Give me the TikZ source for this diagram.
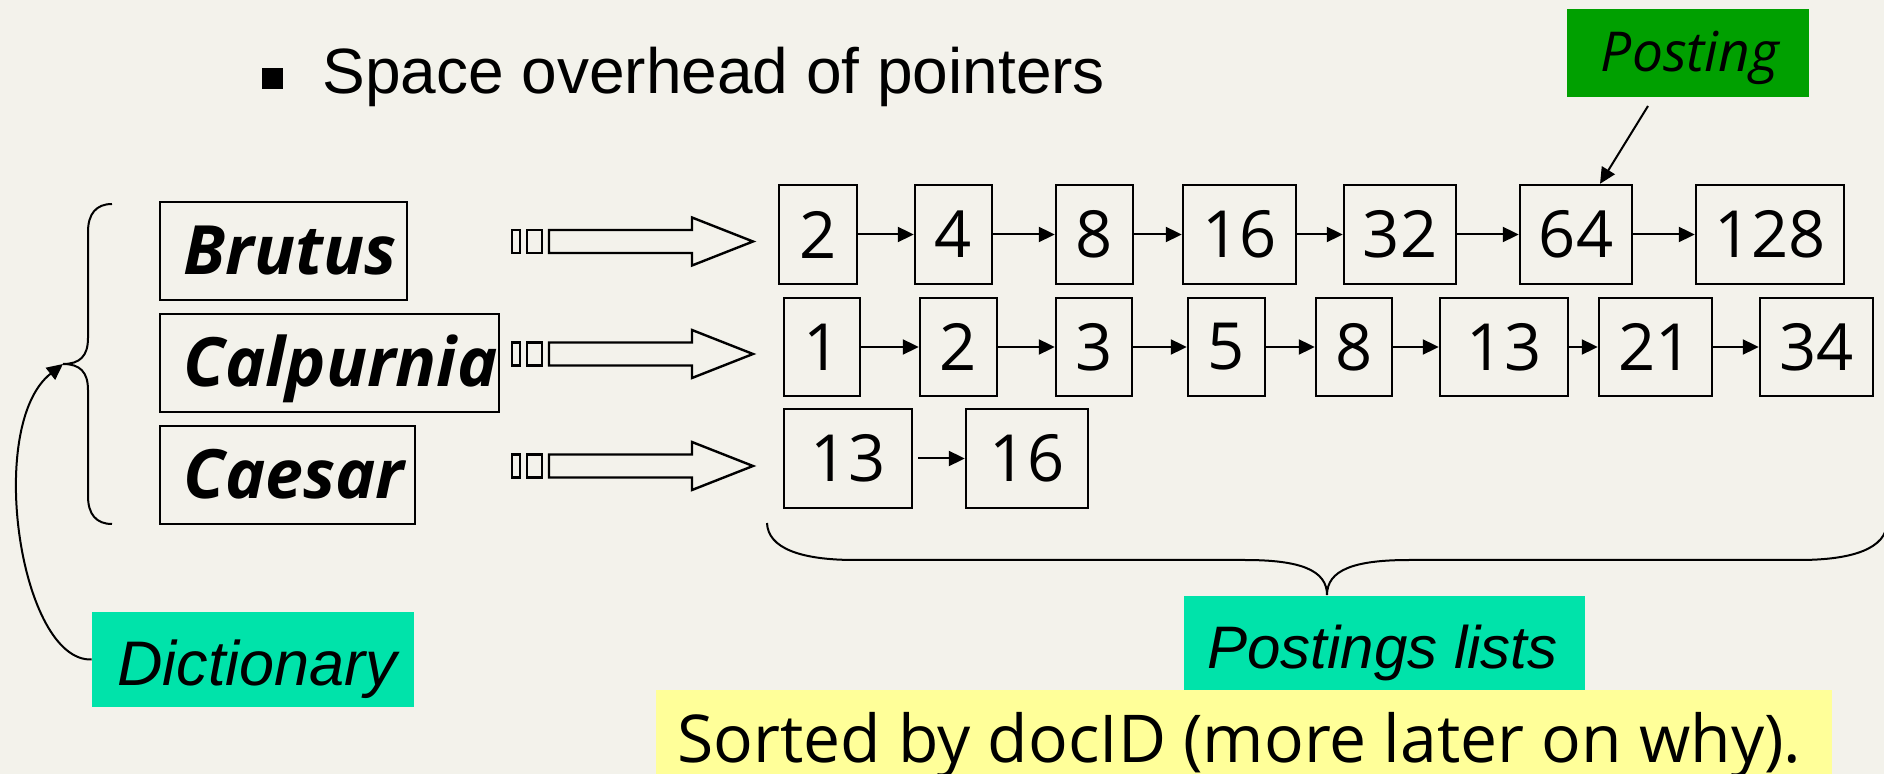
\documentclass[tikz,border=0pt]{standalone}
\usepackage{fontspec}
\setmainfont{Open Sans}
\newfontfamily\arialfont{Liberation Sans}
\usetikzlibrary{arrows.meta,fit,calc}
\definecolor{paper}{RGB}{243,242,235}
\definecolor{tealbox}{RGB}{0,227,170}
\definecolor{greenbox}{RGB}{0,160,0}
\definecolor{notebox}{RGB}{255,255,153}

% one posting: name, corners (x1,y1) (x2,y2), docID
\newcommand\postnode[6]{%
  \node[postbox, fit={(#2,#3)(#4,#5)}, label={[numtxt]center:#6}] (#1) {};}
% striped block arrow from a term to its postings list, centred on row y
\newcommand\stripearrow[1]{%
  \draw[stripe] (512,#1-11.5) rectangle (520,#1+11.5);
  \draw[stripe] (527,#1-11.5) rectangle (542,#1+11.5);
  \draw[stripe] (549,#1-11.5) -- (692,#1-11.5) -- (692,#1-24) -- (753,#1)
    -- (692,#1+24) -- (692,#1+11.5) -- (549,#1+11.5) -- cycle;}

\begin{document}
\begin{tikzpicture}[x=0.5pt,y=-0.5pt,
  termbox/.style={draw, line width=1.3pt, inner sep=0pt},
  postbox/.style={draw, line width=1.2pt, inner sep=0pt},
  numtxt/.style={font=\fontsize{32.5}{38}\selectfont, inner sep=0pt},
  termtxt/.style={font=\fontsize{34}{40}\selectfont\bfseries\itshape, inner sep=0pt, anchor=base west},
  link/.style={line width=1pt, -{Triangle[length=8pt,width=7.5pt]}},
  brace/.style={line width=1pt},
  stripe/.style={line width=1.2pt},
  plate/.style={inner sep=0pt},
  caption/.style={inner sep=0pt, anchor=base west},
]
% page
\fill[paper] (0,0) rectangle (1884,774);
\useasboundingbox (0,0) rectangle (1884,774);

% bullet line
\node[fill=black, minimum size=10.5pt, inner sep=0pt] (bullet) at (272.5,79) {};
\node[caption, font=\arialfont\fontsize{32}{38}\selectfont] (overhead) at (322,94) {Space overhead of pointers};

% dictionary terms
\node[termbox, fit={(160,202)(407,300)}] (brutus) {};
\node[termbox, fit={(160,314)(499,412)}] (calpurnia) {};
\node[termbox, fit={(160,426)(415,524)}] (caesar) {};
\node[termtxt] (brutustxt) at (183,275) {Brutus};
\node[termtxt] (calpurniatxt) at (183,387) {Calpurnia};
\node[termtxt] (caesartxt) at (183,499) {Caesar};

% striped arrows from terms to lists
\stripearrow{241.5}
\stripearrow{354}
\stripearrow{466}

% postings of Brutus
\postnode{p1a}{779}{185}{857}{284}{2}
\postnode{p1b}{915}{185}{992}{284}{4}
\postnode{p1c}{1056}{185}{1133}{284}{8}
\postnode{p1d}{1183}{185}{1296}{284}{16}
\postnode{p1e}{1344}{185}{1456}{284}{32}
\postnode{p1f}{1520}{185}{1632}{284}{64}
\postnode{p1g}{1696}{185}{1844}{284}{128}
% postings of Calpurnia
\postnode{p2a}{784}{298}{860}{396}{1}
\postnode{p2b}{920}{298}{997}{396}{2}
\postnode{p2c}{1056}{298}{1132}{396}{3}
\postnode{p2d}{1188}{298}{1265}{396}{5}
\postnode{p2e}{1316}{298}{1392}{396}{8}
\postnode{p2f}{1440}{298}{1568}{396}{13}
\postnode{p2g}{1599}{298}{1712}{396}{21}
\postnode{p2h}{1760}{298}{1873}{396}{34}
% postings of Caesar
\postnode{p3a}{784}{409}{912}{508}{13}
\postnode{p3b}{966}{409}{1088}{508}{16}

% list pointers
\foreach \a/\b in {p1a/p1b,p1b/p1c,p1c/p1d,p1d/p1e,p1e/p1f,p1f/p1g,
                   p2a/p2b,p2b/p2c,p2c/p2d,p2d/p2e,p2e/p2f,p2f/p2g,p2g/p2h}
  \draw[link] (\a) -- (\b);
\draw[link, shorten <=2.5pt] (p3a) -- (p3b);

% "Posting" callout
\node[plate, fill=greenbox, fit={(1567,9)(1809,97)}] (posting) {};
\node[inner sep=0pt, anchor=base, font=\fontsize{27.5}{32}\selectfont\itshape] (postingtxt) at (1690,72) {Posting};
\coordinate (postingtail) at (1648,106);
\draw[link] (postingtail) -- ($(p1f.north)+(24,0)$);

% brace over the dictionary
\coordinate (bracetip) at (63,364);
\draw[brace] (112,204) .. controls (96,204) and (88,214) .. (88,232) -- (88,338)
  .. controls (88,356) and (80,364) .. (bracetip)
  .. controls (80,364) and (88,372) .. (88,390) -- (88,496)
  .. controls (88,514) and (96,524) .. (112,524);

% "Dictionary" label
\node[plate, fill=tealbox, fit={(92,612)(414,707)}] (dict) {};
\node[caption, font=\arialfont\fontsize{31.5}{36}\selectfont\itshape] (dicttxt) at (117,685) {Dictionary};
\draw[link] (dict.west) .. controls (20,662) and (-15,425) .. (bracetip);

% brace under the postings lists
\coordinate (listtip) at (1327,595);
\draw[brace] (767,523) .. controls (768,548) and (800,560) .. (855,560) -- (1245,560)
  .. controls (1300,560) and (1327,570) .. (listtip)
  .. controls (1327,570) and (1354,560) .. (1409,560) -- (1799,560)
  .. controls (1854,560) and (1886,548) .. (1887,523);

% "Postings lists" label
\node[plate, fill=tealbox, fit={(1184,596)(1585,690)}] (lists) {};
\node[caption, font=\arialfont\fontsize{30}{36}\selectfont\itshape] (liststxt) at (1207,668) {Postings lists};

% note
\node[plate, fill=notebox, fit={(656,690)(1832,774)}] (note) {};
\node[caption, font=\fontsize{33}{40}\selectfont] (notetxt) at (677,762) {Sorted by docID (more later on why).};
\end{tikzpicture}
\end{document}
